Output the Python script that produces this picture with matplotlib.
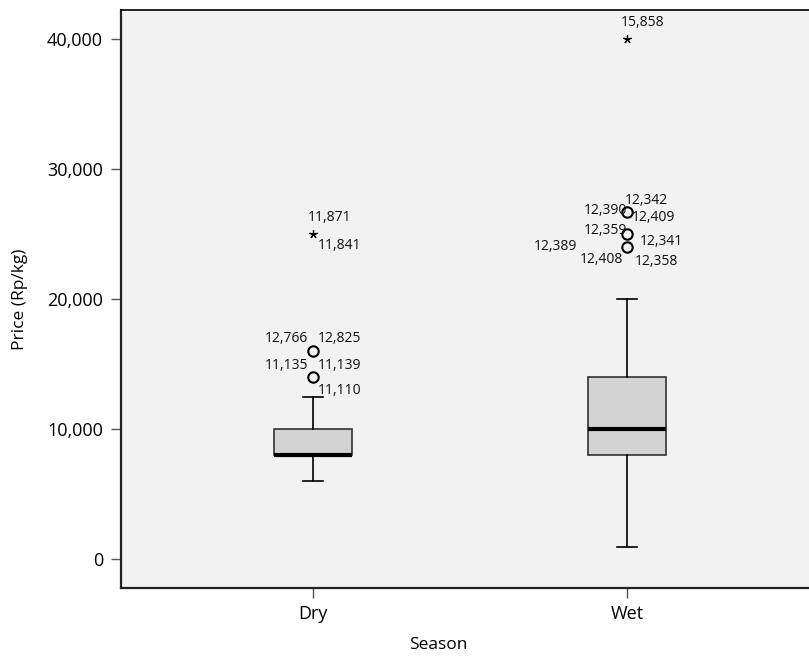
import matplotlib
matplotlib.use("Agg")
import matplotlib.pyplot as plt
from matplotlib.ticker import FuncFormatter

# ---- data ----
categories = ["Dry", "Wet"]
whisker_low = [6000, 900]
q1 = [8000, 8000]
medians = [8000, 10000]
q3 = [10000, 14000]
whisker_high = [12500, 20000]

# outliers (circles) and extremes (stars)
dry_outliers = [16000, 14000]
dry_extremes = [25000]
wet_outliers = [26700, 25000, 24000]
wet_extremes = [40000]

# case labels: (category index, value, text, dx px, dy px, ha)
case_labels = [
    (0, 25000, "11,871", -5, 16, "left"),
    (0, 25000, "11,841", 5, -12, "left"),
    (0, 16000, "12,766", -5, 13, "right"),
    (0, 16000, "12,825", 5, 13, "left"),
    (0, 14000, "11,135", -5, 12, "right"),
    (0, 14000, "11,139", 5, 12, "left"),
    (0, 14000, "11,110", 5, -13, "left"),
    (1, 40000, "15,858", -6, 16, "left"),
    (1, 26700, "12,342", -2, 11, "left"),
    (1, 26700, "12,390", 0, 1, "right"),
    (1, 26700, "12,409", 5, -6, "left"),
    (1, 25000, "12,359", 0, 3, "right"),
    (1, 24000, "12,389", -50, 0, "right"),
    (1, 24000, "12,341", 13, 5, "left"),
    (1, 24000, "12,408", -4, -13, "right"),
    (1, 24000, "12,358", 8, -15, "left"),
]

yticks = [0, 10000, 20000, 30000, 40000]

plt.rcParams['font.family'] = ['Open Sans', 'DejaVu Sans']

fig = plt.figure(figsize=(8.09, 6.56), dpi=100)
ax = fig.add_axes([121/809, (656-588)/656, (809-121)/809, (588-10)/656])
ax.set_facecolor("#f2f2f2")

positions = [1, 2]
stats = []
for i, c in enumerate(categories):
    stats.append(dict(label=c, whislo=whisker_low[i], q1=q1[i], med=medians[i],
                      q3=q3[i], whishi=whisker_high[i], fliers=[]))

ax.bxp(stats, positions=positions, widths=0.25, patch_artist=True,
       showfliers=False, capwidths=0.064,
       boxprops=dict(facecolor="#d3d3d3", edgecolor="#333333", linewidth=1.2),
       medianprops=dict(color="black", linewidth=3),
       whiskerprops=dict(color="black", linewidth=1.2),
       capprops=dict(color="black", linewidth=1.2))

ax.plot([1]*len(dry_outliers), dry_outliers, 'o', mfc='none', mec='black', mew=1.5, ms=7.5, ls='none')
ax.plot([2]*len(wet_outliers), wet_outliers, 'o', mfc='none', mec='black', mew=1.5, ms=7.5, ls='none')
ax.plot([1]*len(dry_extremes), dry_extremes, marker=(5, 2, 0), color='black', ms=6, mew=0.9, ls='none')
ax.plot([2]*len(wet_extremes), wet_extremes, marker=(5, 2, 0), color='black', ms=6, mew=0.9, ls='none')

for ci, val, txt, dx, dy, ha in case_labels:
    ax.annotate(txt, xy=(positions[ci], val), xytext=(dx, dy), textcoords='offset pixels',
                ha=ha, va='center', fontsize=10, color='#111111')

ax.set_xlim(1 - 192/314, 1 + (809-313)/314)
ax.set_ylim(-2230, 42230)
ax.set_xticks(positions)
ax.set_xticklabels(categories)
ax.set_yticks(yticks)
ax.yaxis.set_major_formatter(FuncFormatter(lambda v, p: f"{int(v):,}"))
ax.tick_params(axis='both', labelsize=13, length=7, width=1, color='#555555', direction='out')
ax.tick_params(axis='x', pad=5)
ax.tick_params(axis='y', pad=6)

for s in ['left', 'bottom']:
    ax.spines[s].set_linewidth(1.6)
    ax.spines[s].set_color('#222222')
ax.spines['top'].set_linewidth(1.2)
ax.spines['top'].set_color('black')
ax.spines['right'].set_visible(False)

ax.set_ylabel("Price (Rp/kg)", fontsize=12.5, labelpad=14)
ax.set_xlabel("Season", fontsize=12.5, labelpad=10)
ax.xaxis.set_label_coords((438-121)/688, -0.085)

fig.savefig("out.png", dpi=100, facecolor='white')
